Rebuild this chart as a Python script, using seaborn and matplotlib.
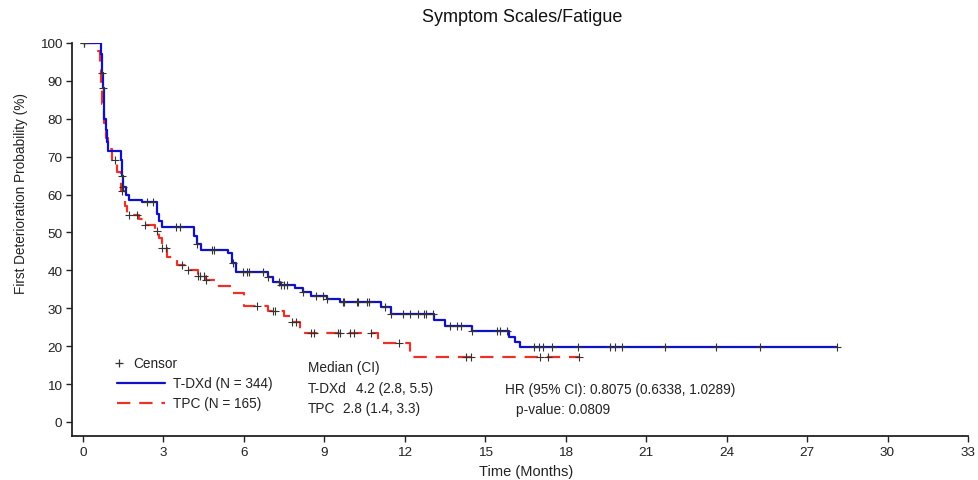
import numpy as np
import pandas as pd
import matplotlib
matplotlib.use("Agg")
import matplotlib.pyplot as plt
import seaborn as sns

# ---------------- data ----------------
title = "Symptom Scales/Fatigue"
xlabel = "Time (Months)"
ylabel = "First Deterioration Probability (%)"
x_ticks = [0, 3, 6, 9, 12, 15, 18, 21, 24, 27, 30, 33]
y_ticks = [0, 10, 20, 30, 40, 50, 60, 70, 80, 90, 100]

tdxd_times = [0, 0.67, 0.70, 0.73, 0.77, 0.80, 0.85, 0.90, 0.95, 1.40, 1.45, 1.50, 1.60,
              1.70, 2.20, 2.75, 2.85, 2.95, 4.15, 4.25, 4.40, 5.40, 5.55, 5.70, 6.90,
              7.10, 7.35, 7.90, 8.20, 8.50, 9.10, 9.60, 11.10, 11.50, 13.10, 13.50,
              14.50, 15.90, 16.10, 16.30]
tdxd_surv = [100, 97, 92, 88, 84, 80, 77, 74, 71.5, 69, 65, 62, 60,
             58.7, 58, 55, 53, 51.5, 49, 47, 45.5, 44.5, 42, 39.5, 38.3,
             37.0, 36.2, 35.3, 34.3, 33.2, 32.4, 31.6, 30.3, 28.5, 27.0, 25.3,
             24.0, 22.5, 21.0, 19.8]
tdxd_censor = [0.05, 0.70, 0.75, 1.45, 1.50, 2.40, 2.60, 3.45, 3.60, 4.25, 4.80, 4.90,
               5.60, 5.95, 6.10, 6.20, 6.70, 6.90, 7.30, 7.40, 7.50, 7.60, 8.20, 8.70,
               8.95, 9.10, 9.70, 9.75, 10.20, 10.25, 10.60, 10.65, 11.25, 11.50, 11.95,
               12.20, 12.50, 12.70, 12.80, 13.05, 13.70, 13.95, 14.10, 14.50, 15.45,
               15.55, 15.80, 16.80, 17.00, 17.15, 17.50, 18.45, 19.65, 19.85, 20.10,
               21.70, 23.60, 25.25, 28.10]

tpc_times = [0, 0.55, 0.62, 0.68, 0.72, 0.78, 0.85, 0.95, 1.10, 1.25, 1.40, 1.55, 1.65,
             2.10, 2.30, 2.70, 2.85, 2.95, 3.15, 3.50, 3.90, 4.30, 4.60, 5.00, 5.50,
             6.00, 6.90, 7.50, 7.80, 8.10, 11.00, 12.20]
tpc_surv = [100, 98, 93, 88, 84, 79, 75, 72, 69, 66, 61, 57, 54.5,
            53.5, 52, 50.5, 48.5, 46, 43.5, 41.5, 40, 38.5, 37.5, 35.8, 34,
            30.5, 29.3, 28, 26.5, 23.5, 20.8, 17.2]
tpc_censor = [0.05, 1.20, 1.45, 1.70, 2.00, 2.30, 2.75, 2.95, 3.10, 3.70, 3.90, 4.30,
              4.35, 4.50, 4.60, 6.50, 7.10, 7.15, 7.80, 7.95, 8.50, 8.60, 9.50,
              9.60, 9.95, 10.10, 10.75, 11.80, 14.30, 14.45, 17.05, 17.35, 18.50]

groups = ["T-DXd (N = 344)", "TPC (N = 165)"]
colors = ["#1010C8", "#E8322A"]
median_rows = [("T-DXd", "4.2 (2.8, 5.5)"), ("TPC", "2.8 (1.4, 3.3)")]
hr_text = "HR (95% CI): 0.8075 (0.6338, 1.0289)"
p_text = "p-value: 0.0809"


def step_value(times, surv, t):
    idx = np.searchsorted(np.asarray(times), t, side="right") - 1
    return np.asarray(surv)[idx]


def curve_frame(times, surv, censor, name):
    end = max(censor)
    t = list(times) + [end]
    s = list(surv) + [surv[-1]]
    line = pd.DataFrame({"time": t, "surv": s, "group": name})
    cens = pd.DataFrame({"time": censor,
                         "surv": [step_value(times, surv, c) for c in censor],
                         "group": name})
    return line, cens


l1, c1 = curve_frame(tdxd_times, tdxd_surv, tdxd_censor, groups[0])
l2, c2 = curve_frame(tpc_times, tpc_surv, tpc_censor, groups[1])

# ---------------- figure ----------------
sns.set_theme(style="ticks")
plt.rcParams["font.family"] = ["Liberation Sans", "DejaVu Sans"]

W, H = 979, 481
fig = plt.figure(figsize=(W / 100, H / 100), dpi=100)
ax = fig.add_axes([72 / W, 1 - 437 / H, (968 - 72) / W, (437 - 44) / H])

sns.lineplot(data=l1, x="time", y="surv", ax=ax, color=colors[0], lw=1.6,
             drawstyle="steps-post", estimator=None, sort=False, legend=False, zorder=3)
sns.lineplot(data=l2, x="time", y="surv", ax=ax, color=colors[1], lw=1.6,
             drawstyle="steps-post", estimator=None, sort=False, legend=False,
             linestyle=(0, (6, 4)), zorder=2)
cens = pd.concat([c1, c2])
sns.scatterplot(data=cens, x="time", y="surv", ax=ax, marker="+", color="#333333",
                s=34, linewidth=0.8, legend=False, zorder=4)

ax.set_xlim(-0.41, 33)
ax.set_ylim(-3.7, 100)
ax.set_xticks(x_ticks)
ax.set_yticks(y_ticks)
ax.tick_params(axis="both", labelsize=9.7, length=4, width=1, colors="#222222",
               labelcolor="#222222", pad=3)
for sp in ["top", "right"]:
    ax.spines[sp].set_visible(False)
for sp in ["left", "bottom"]:
    ax.spines[sp].set_linewidth(1.3)
    ax.spines[sp].set_color("#222222")
ax.set_xlabel(xlabel, fontsize=10.5, color="#222222")
ax.set_ylabel(ylabel, fontsize=9.8, color="#222222")
ax.xaxis.set_label_coords((526 - 72) / 896, -(472 - 437) / 393)
ax.yaxis.set_label_coords(-(72 - 21) / 896, (437 - 194) / 393)
ax.yaxis.label.set_va("center")
ax.xaxis.label.set_va("center")
fig.text(522 / W, 1 - 18 / H, title, ha="center", va="center", fontsize=13,
         color="#111111")

# ---------------- in-plot legend / annotation ----------------
fs = 9.8
trans = ax.transData
def px2d(x, y):
    return ((x - 83) / 26.82, (423 - y) / 3.79)

tx, ty = px2d(119, 364)
ax.plot([tx], [ty], marker="+", color="#333333", ms=6, mew=0.9, transform=trans,
        clip_on=False)
ax.text(*px2d(133, 364), "Censor", fontsize=fs, va="center", color="#222222")
for (yy, name, col, ls) in [(384, groups[0], colors[0], "-"),
                            (404, groups[1], colors[1], (0, (6, 4)))]:
    xa, ya = px2d(117, yy)
    xb, _ = px2d(165, yy)
    ax.plot([xa, xb], [ya, ya], color=col, lw=1.6, linestyle=ls, clip_on=False)
    ax.text(*px2d(173, yy), name, fontsize=fs, va="center", color="#222222")

ax.text(*px2d(308, 368), "Median (CI)", fontsize=fs, va="center", color="#222222")
ax.text(*px2d(308, 389), median_rows[0][0], fontsize=fs, va="center", color="#222222")
ax.text(*px2d(356, 389), median_rows[0][1], fontsize=fs, va="center", color="#222222")
ax.text(*px2d(308, 409), median_rows[1][0], fontsize=fs, va="center", color="#222222")
ax.text(*px2d(343, 409), median_rows[1][1], fontsize=fs, va="center", color="#222222")
ax.text(*px2d(505, 390), hr_text, fontsize=fs, va="center", color="#222222")
ax.text(*px2d(516, 410), p_text, fontsize=fs, va="center", color="#222222")

fig.savefig("out.png", dpi=100)
